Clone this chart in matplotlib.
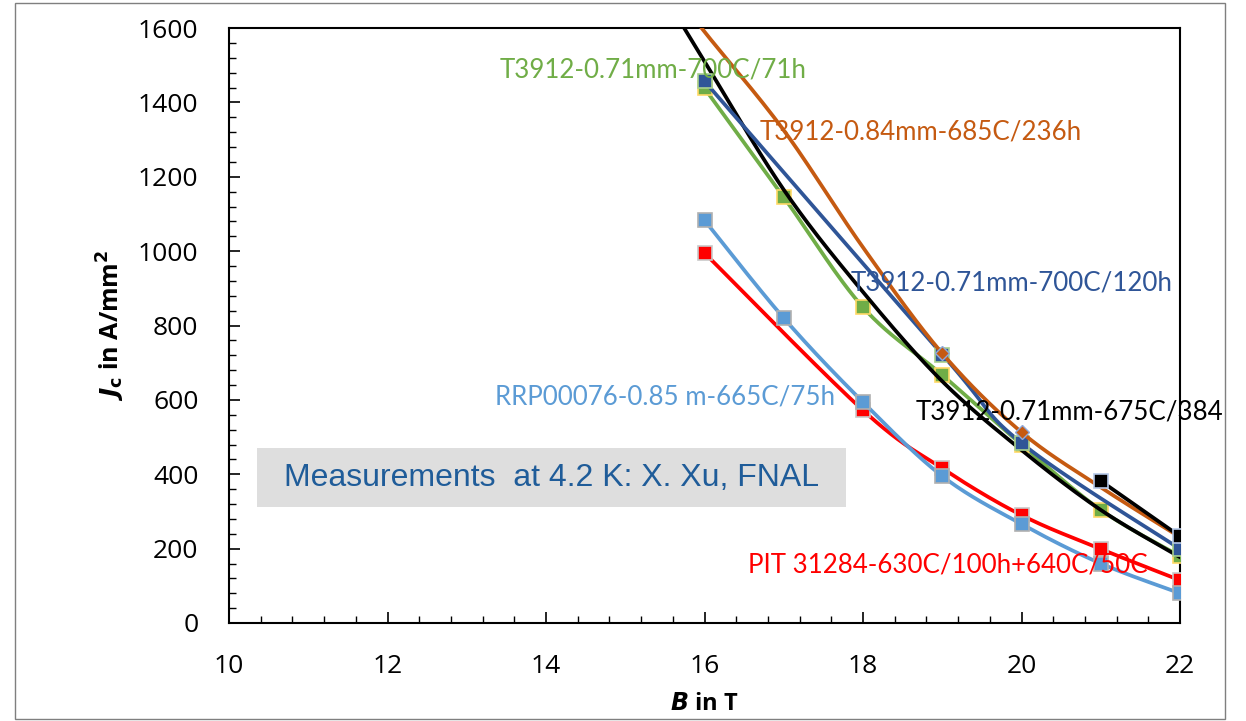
import numpy as np
import matplotlib
matplotlib.use('Agg')
import matplotlib.pyplot as plt
from matplotlib.patches import Rectangle
from matplotlib.ticker import MultipleLocator

# ---------------- data ----------------
B_green = [16, 17, 18, 19, 20, 21, 22]
J_green = [1438, 1145, 849, 667, 480, 304, 180]

B_dblue = [16, 19, 20, 22]
J_dblue = [1457, 722, 484, 199]

B_brown = [15.5, 16, 17, 18, 19, 20, 21, 22]
J_brown = [1730, 1590, 1325, 1010, 725, 513, 365, 231]
brown_marker_idx = [4, 5]

B_black_fit = [15.5, 16, 17, 18, 19, 20, 21, 22]
J_black_fit = [1685, 1510, 1165, 890, 650, 465, 304, 177]

B_black = [21, 22]
J_black = [382, 233]

B_lblue = [16, 17, 18, 19, 20, 21, 22]
J_lblue = [1083, 820, 594, 395, 266, 160, 80]

B_red = [16, 18, 19, 20, 21, 22]
J_red = [995, 572, 416, 290, 199, 115]

x_ticks = [10, 12, 14, 16, 18, 20, 22]
y_ticks = [0, 200, 400, 600, 800, 1000, 1200, 1400, 1600]

labels = {
    'green': 'T3912-0.71mm-700C/71h',
    'brown': 'T3912-0.84mm-685C/236h',
    'dblue': 'T3912-0.71mm-700C/120h',
    'lblue': 'RRP00076-0.85 m-665C/75h',
    'black': 'T3912-0.71mm-675C/384',
    'red': 'PIT 31284-630C/100h+640C/50C',
}
note = 'Measurements  at 4.2 K: X. Xu, FNAL'


def smooth(xs, ys, n=40):
    """Excel-like smoothed line (Catmull-Rom Bezier)."""
    P = np.column_stack([xs, ys]).astype(float)
    m = len(P)
    out = []
    for i in range(m - 1):
        p0 = P[i]
        p1 = P[i + 1]
        pm = P[i - 1] if i > 0 else P[i]
        pp = P[i + 2] if i + 2 < m else P[i + 1]
        c1 = p0 + (p1 - pm) / 6.0
        c2 = p1 - (pp - p0) / 6.0
        t = np.linspace(0, 1, n)[:, None]
        seg = ((1 - t) ** 3) * p0 + 3 * ((1 - t) ** 2) * t * c1 + 3 * (1 - t) * t ** 2 * c2 + t ** 3 * p1
        out.append(seg if i == 0 else seg[1:])
    s = np.vstack(out)
    return s[:, 0], s[:, 1]


plt.rcParams['font.family'] = ['Open Sans', 'DejaVu Sans']

fig = plt.figure(figsize=(12.46, 7.21), dpi=100)
ax = fig.add_axes([229 / 1246, 1 - 623 / 721, (1180 - 229) / 1246, (623 - 28) / 721])

lw = 2.7
ms = 9.5

c_green = '#70AD47'
c_dblue = '#2F5597'
c_brown = '#C55A11'
c_lblue = '#5B9BD5'
c_red = '#FF0000'

# green
x, y = smooth(B_green, J_green)
ax.plot(x, y, color=c_green, lw=lw, zorder=3)
ax.plot(B_green, J_green, ls='none', marker='s', ms=ms, mfc=c_green, mec='#FFD966', mew=1.2, zorder=3.1)

# red
x, y = smooth(B_red, J_red)
ax.plot(x, y, color=c_red, lw=lw, zorder=3.2)
ax.plot(B_red, J_red, ls='none', marker='s', ms=ms, mfc=c_red, mec='#C9C9C9', mew=1.2, zorder=3.3)

# light blue
x, y = smooth(B_lblue, J_lblue)
ax.plot(x, y, color=c_lblue, lw=lw, zorder=3.4)
ax.plot(B_lblue, J_lblue, ls='none', marker='s', ms=ms, mfc=c_lblue, mec='#B0B0B0', mew=1.2, zorder=3.5)

# black trend curve
x, y = smooth(B_black_fit, J_black_fit)
ax.plot(x, y, color='black', lw=lw, zorder=3.6)

# dark blue
x, y = smooth(B_dblue, J_dblue)
ax.plot(x, y, color=c_dblue, lw=lw, zorder=3.7)
ax.plot(B_dblue, J_dblue, ls='none', marker='s', ms=ms, mfc=c_dblue, mec='#A9D18E', mew=1.2, zorder=3.8)

# brown
x, y = smooth(B_brown, J_brown)
ax.plot(x, y, color=c_brown, lw=lw, zorder=3.9)
ax.plot([B_brown[i] for i in brown_marker_idx], [J_brown[i] for i in brown_marker_idx],
        ls='none', marker='D', ms=7.5, mfc=c_brown, mec='#8FAADC', mew=1.0, zorder=4.0)

# black measured
ax.plot(B_black, J_black, color='black', lw=lw, marker='s', ms=ms, mfc='black', mec='#B4C7E7', mew=1.2, zorder=4.1)

ax.set_xlim(10, 22)
ax.set_ylim(0, 1600)
ax.set_xticks(x_ticks)
ax.set_yticks(y_ticks)
ax.xaxis.set_minor_locator(MultipleLocator(0.4))
ax.yaxis.set_minor_locator(MultipleLocator(40))
ax.tick_params(which='both', direction='in', top=False, right=False)
ax.tick_params(which='major', length=8, width=1.2)
ax.tick_params(which='minor', length=5, width=1.0)
ax.tick_params(axis='y', labelsize=19, pad=22)
ax.tick_params(axis='x', labelsize=19, pad=22)
for sp in ax.spines.values():
    sp.set_linewidth(1.5)

ax.set_xlabel(r'$\boldsymbol{B}$ in T', fontsize=17, fontweight='bold', labelpad=10)
ax.set_ylabel(r'$\boldsymbol{J}_\mathbf{c}$ in A/mm$^\mathbf{2}$', fontsize=18, fontweight='bold', labelpad=8)

tfs = 18.6
lab_font = ['Lato', 'DejaVu Sans']
ax.text(13.41, 1487, labels['green'], color=c_green, fontsize=tfs, family=lab_font, ha='left', va='center', zorder=5)
ax.text(16.70, 1320, labels['brown'], color=c_brown, fontsize=tfs, family=lab_font, ha='left', va='center', zorder=5)
ax.text(17.84, 914, labels['dblue'], color=c_dblue, fontsize=tfs, family=lab_font, ha='left', va='center', zorder=5)
ax.text(13.36, 608, labels['lblue'], color=c_lblue, fontsize=tfs, family=lab_font, ha='left', va='center', zorder=5)
ax.text(18.67, 567, labels['black'], color='black', fontsize=tfs, family=lab_font, ha='left', va='center', zorder=5, clip_on=False)
ax.text(16.55, 156, labels['red'], color=c_red, fontsize=tfs, family=lab_font, ha='left', va='center', zorder=5)

ax.add_patch(Rectangle((10.35, 312), 7.44, 158, facecolor='#DEDEDE', edgecolor='none', zorder=2))
ax.text(14.07, 391, note, color='#1F5C99', fontsize=23, family=['Liberation Sans', 'DejaVu Sans'],
        ha='center', va='center', zorder=2.5)

# outer frame
fig.add_artist(Rectangle((15 / 1246, 1 - 719 / 721), (1225 - 15) / 1246, (719 - 3) / 721,
                         transform=fig.transFigure, fill=False, edgecolor='#7F7F7F', lw=1.0))

fig.savefig('out.png', dpi=100)
